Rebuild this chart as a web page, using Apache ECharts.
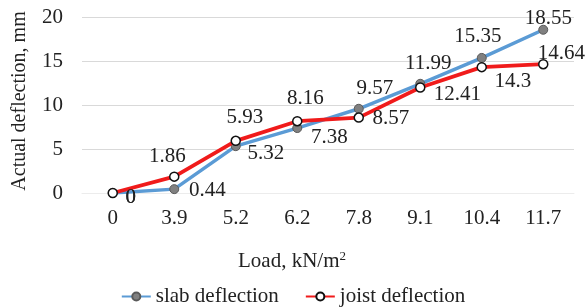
<!DOCTYPE html>
<html>
<head>
<meta charset="utf-8">
<script src="https://cdn.jsdelivr.net/npm/echarts@6/dist/echarts.min.js"></script>
<style>
  html, body { margin: 0; padding: 0; background: #fff; }
  #chart { width: 586px; height: 308px; }
</style>
</head>
<body>
<div id="chart"></div>
<script>
var loads = ['0', '3.9', '5.2', '6.2', '7.8', '9.1', '10.4', '11.7']
var slab = [0, 0.44, 5.32, 7.38, 9.57, 12.41, 15.35, 18.55]
var joist = [0, 1.86, 5.93, 8.16, 8.57, 11.99, 14.3, 14.64]
var yTicks = [0, 5, 10, 15, 20]

// where each value label sits relative to its point (Excel labels were dragged about)
var slabOffsets = [[18, 4], [33, 1], [30, 7], [32, 9], [16, -20], [37, 11], [-4, -21], [5, -11]]
var joistOffsets = [[18, 4], [-7, -20], [9, -23], [8, -23], [32, 1], [8, -24], [31, 14], [18, -11]]

var font = '"Liberation Serif", "Times New Roman", serif'
var fs = 21

function withLabels(vals, offs) {
  return vals.map(function (v, i) {
    return {value: v, label: {offset: offs[i]}}
  })
}

var chart = echarts.init(document.getElementById('chart'))
chart.setOption({
  animation: false,
  textStyle: {fontFamily: font},
  grid: {left: 82, right: 12, top: 17, bottom: 115},
  legend: {
    top: 281,
    left: 'center',
    itemWidth: 29,
    itemHeight: 10,
    itemGap: 26,
    textStyle: {fontFamily: font, fontSize: fs, color: '#222'},
    data: ['slab deflection', 'joist deflection']
  },
  xAxis: {
    type: 'category',
    data: loads,
    boundaryGap: true,
    axisLine: {lineStyle: {color: '#ececec'}},
    axisTick: {show: false},
    axisLabel: {fontFamily: font, fontSize: fs, color: '#222', margin: 15},
    name: 'Load, kN/m{sup|2}',
    nameLocation: 'middle',
    nameGap: 57,
    nameTextStyle: {
      fontFamily: font, fontSize: fs, color: '#222',
      padding: [0, 72, 0, 0],
      rich: {sup: {fontFamily: font, fontSize: 13, color: '#222', verticalAlign: 'top', padding: [0, 0, 9, 0]}}
    }
  },
  yAxis: {
    type: 'value',
    min: yTicks[0],
    max: yTicks[yTicks.length - 1],
    interval: 5,
    axisLine: {show: false},
    axisTick: {show: false},
    axisLabel: {fontFamily: font, fontSize: fs, color: '#222', margin: 19},
    splitLine: {lineStyle: {color: '#d9d9d9', width: 1}},
    name: 'Actual deflection, mm',
    nameLocation: 'middle',
    nameGap: 52,
    nameTextStyle: {fontFamily: font, fontSize: 20, color: '#222', padding: [0, 0, 0, 8]}
  },
  series: [
    {
      name: 'slab deflection',
      type: 'line',
      data: withLabels(slab, slabOffsets),
      lineStyle: {color: '#5b9bd5', width: 3.5},
      itemStyle: {color: '#808080', borderColor: '#5a5a5a', borderWidth: 1},
      symbol: 'circle',
      symbolSize: 9,
      z: 2,
      label: {
        show: true,
        position: 'inside',
        fontFamily: font,
        fontSize: fs,
        color: '#222'
      }
    },
    {
      name: 'joist deflection',
      type: 'line',
      data: withLabels(joist, joistOffsets),
      lineStyle: {color: '#f01b1b', width: 3.8},
      itemStyle: {color: '#ffffff', borderColor: '#111', borderWidth: 1.5},
      symbol: 'circle',
      symbolSize: 9,
      z: 3,
      label: {
        show: true,
        position: 'inside',
        fontFamily: font,
        fontSize: fs,
        color: '#222'
      }
    }
  ]
})
</script>
</body>
</html>
